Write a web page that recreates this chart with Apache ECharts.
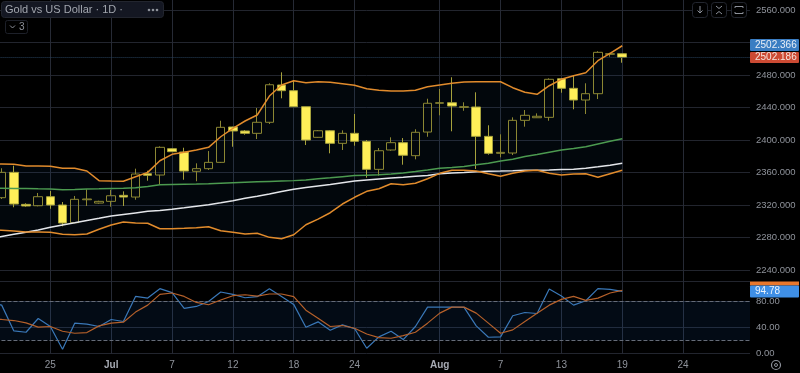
<!DOCTYPE html>
<html>
<head>
<meta charset="utf-8">
<title>Gold vs US Dollar</title>
<style>
  html, body { margin: 0; padding: 0; background: #000; width: 800px; height: 373px; overflow: hidden; position: relative; }
  /* the first bars sit partly off the left edge, a grid can't start left of its canvas */
  #chart { position: absolute; left: -20px; top: 0; width: 820px; height: 373px; }
</style>
<script src="https://cdn.jsdelivr.net/npm/echarts@6/dist/echarts.min.js"></script>
</head>
<body>
<div id="chart"></div>
<script>
const categories = [
  'Jun 19', 'Jun 20', 'Jun 21', 'Jun 23', 'Jun 24', 'Jun 25', 'Jun 26', 'Jun 27', 'Jun 28', 'Jun 30',
  'Jul 1', 'Jul 2', 'Jul 3', 'Jul 4', 'Jul 5', 'Jul 7', 'Jul 8', 'Jul 9', 'Jul 10', 'Jul 11', 'Jul 12',
  'Jul 14', 'Jul 15', 'Jul 16', 'Jul 17', 'Jul 18', 'Jul 19', 'Jul 21', 'Jul 22', 'Jul 23', 'Jul 24',
  'Jul 25', 'Jul 26', 'Jul 28', 'Jul 29', 'Jul 30', 'Jul 31', 'Aug 1', 'Aug 2', 'Aug 4', 'Aug 5', 'Aug 6',
  'Aug 7', 'Aug 8', 'Aug 9', 'Aug 11', 'Aug 12', 'Aug 13', 'Aug 14', 'Aug 15', 'Aug 16', 'Aug 18', 'Aug 19',
  'Aug 20', 'Aug 21', 'Aug 22', 'Aug 23', 'Aug 24', 'Aug 25', 'Aug 26', 'Aug 27', 'Aug 28', 'Aug 29',
];
const tickDates = ['Jun 25', 'Jul 1', 'Jul 7', 'Jul 12', 'Jul 18', 'Jul 24', 'Aug 1', 'Aug 7', 'Aug 13', 'Aug 19', 'Aug 24'];

// candles start on Jun 20, Jun 19 is off screen
const candleOpen = [
  2329.0, 2360.2, 2320.8, 2319.1, 2330.2, 2320.0, 2298.2, 2326.5, 2322.4, 2324.5, 2331.9, 2329.8, 2358.5,
  2356.9, 2389.3, 2385.2, 2361.5, 2364.7, 2372.5, 2416.0, 2411.1, 2408.2, 2421.8, 2467.7, 2460.7, 2441.0,
  2403.3, 2411.4, 2395.9, 2408.2, 2398.4, 2363.9, 2387.7, 2396.7, 2380.7, 2409.8, 2445.2, 2445.9, 2440.2,
  2440.6, 2404.5, 2383.6, 2384.0, 2424.2, 2427.4, 2427.9, 2475.4, 2463.6, 2449.2, 2457.0, 2505.5, 2506.2,
];
const candleClose = [
  2360.2, 2321.2, 2318.8, 2330.2, 2320.0, 2297.8, 2327.0, 2327.4, 2324.5, 2331.4, 2329.8, 2358.1, 2356.5,
  2391.0, 2385.6, 2361.8, 2364.7, 2372.5, 2415.6, 2411.1, 2408.2, 2421.8, 2468.0, 2460.7, 2441.0, 2400.0,
  2411.4, 2395.9, 2408.2, 2398.4, 2363.9, 2386.8, 2396.7, 2381.2, 2409.5, 2445.2, 2445.9, 2441.8, 2441.0,
  2404.5, 2383.6, 2384.8, 2424.2, 2430.4, 2429.2, 2474.7, 2463.6, 2449.2, 2457.0, 2507.9, 2506.2, 2501.8,
];
const candleLow = [
  2327.4, 2317.2, 2317.9, 2318.4, 2315.4, 2293.8, 2297.5, 2318.8, 2321.6, 2317.9, 2318.8, 2326.5, 2349.9,
  2345.5, 2385.2, 2351.1, 2349.2, 2363.1, 2371.7, 2391.7, 2406.5, 2401.2, 2419.7, 2451.3, 2441.0, 2393.8,
  2402.8, 2383.6, 2387.7, 2393.0, 2353.6, 2356.1, 2386.8, 2369.6, 2376.2, 2404.0, 2430.4, 2410.7, 2436.0,
  2364.3, 2381.9, 2378.7, 2381.5, 2416.4, 2427.1, 2423.7, 2458.2, 2437.8, 2432.0, 2450.4, 2502.5, 2495.1,
];
const candleHigh = [
  2365.2, 2368.4, 2322.1, 2334.8, 2337.2, 2323.7, 2331.1, 2339.3, 2325.3, 2338.8, 2336.8, 2364.7, 2362.2,
  2392.2, 2389.8, 2390.5, 2371.3, 2386.4, 2423.7, 2416.4, 2412.3, 2439.4, 2469.8, 2483.3, 2473.8, 2441.0,
  2412.3, 2412.3, 2411.9, 2432.0, 2400.0, 2390.1, 2403.3, 2402.4, 2413.2, 2450.8, 2462.8, 2477.2, 2446.4,
  2458.7, 2418.1, 2407.0, 2427.9, 2436.9, 2432.8, 2475.9, 2476.3, 2478.8, 2469.8, 2509.2, 2507.4, 2506.2,
];

const bandUpper = [
  2370.6, 2370.4, 2370.1, 2368.0, 2368.0, 2367.6, 2365.2, 2365.2, 2361.8, 2349.9, 2349.5, 2349.2, 2354.8, 2360.2,
  2374.5, 2382.4, 2384.9, 2387.7, 2391.0, 2404.0, 2414.4, 2423.4, 2430.8, 2454.1, 2467.7, 2473.0, 2470.5,
  2471.7, 2471.0, 2469.3, 2467.3, 2463.1, 2461.2, 2460.3, 2460.3, 2461.2, 2465.6, 2467.7, 2469.8, 2471.4,
  2471.7, 2471.7, 2471.7, 2464.4, 2458.7, 2456.2, 2466.8, 2474.7, 2479.1, 2482.8, 2497.6, 2506.7, 2516.0,
];
const bandLower = [
  2289.4, 2288.8, 2288.0, 2286.7, 2286.7, 2286.4, 2283.9, 2283.4, 2284.3, 2290.1, 2295.4, 2299.1, 2297.8, 2297.5,
  2290.8, 2290.8, 2291.3, 2292.0, 2293.3, 2288.4, 2286.4, 2284.3, 2285.2, 2280.2, 2278.5, 2283.4, 2295.7,
  2302.7, 2310.5, 2321.2, 2329.5, 2336.8, 2340.0, 2346.2, 2345.0, 2346.7, 2352.3, 2359.0, 2362.7, 2362.7,
  2361.8, 2358.5, 2355.3, 2359.0, 2361.8, 2362.7, 2359.0, 2356.9, 2358.1, 2358.5, 2354.1, 2358.5, 2362.7,
];
const maGreen = [
  2340.5, 2340.5, 2340.4, 2340.2, 2339.9, 2339.7, 2338.8, 2339.2, 2339.7, 2339.9, 2340.3, 2340.7, 2341.2, 2342.9,
  2345.0, 2345.3, 2345.6, 2345.8, 2346.2, 2346.8, 2347.4, 2348.0, 2348.5, 2349.0, 2349.5, 2350.0, 2350.8,
  2352.2, 2353.5, 2354.9, 2356.2, 2356.7, 2357.2, 2358.1, 2359.4, 2361.1, 2363.1, 2365.2, 2366.1, 2367.4,
  2369.6, 2371.4, 2374.1, 2376.2, 2379.7, 2382.1, 2384.9, 2387.7, 2389.4, 2391.7, 2395.1, 2398.4, 2401.6,
];
const maWhite = [
  2278.6, 2281.3, 2283.9, 2286.5, 2289.2, 2292.5, 2295.4, 2298.1, 2301.0, 2303.6, 2306.4, 2308.4, 2310.3, 2312.2,
  2313.3, 2314.7, 2316.5, 2318.5, 2320.4, 2322.7, 2325.3, 2328.2, 2330.8, 2333.5, 2336.6, 2339.3, 2341.4,
  2343.4, 2345.3, 2347.4, 2349.5, 2350.8, 2352.0, 2353.2, 2354.2, 2355.4, 2356.4, 2358.5, 2359.4, 2360.0,
  2361.0, 2361.5, 2361.8, 2362.2, 2362.7, 2362.7, 2363.1, 2363.6, 2363.9, 2365.2, 2367.0, 2369.0, 2371.3,
];
const rsiValues = [
  78.0, 73.8, 34.6, 32.6, 53.5, 41.3, 6.7, 46.4, 44.8, 41.3, 52.0, 48.9, 87.0, 84.5, 98.8, 92.7, 68.8, 71.8, 79.4,
  93.7, 90.1, 85.0, 86.6, 98.8, 87.0, 74.9, 40.3, 48.4, 35.7, 43.8, 38.2, 8.2, 25.5, 34.1, 21.4, 41.3, 70.8,
  70.8, 70.8, 70.3, 42.3, 25.0, 25.5, 57.6, 62.6, 61.1, 98.3, 87.6, 73.8, 80.5, 98.8, 97.8, 94.78,
];
const rsiMa = [
  52.4, 52.0, 50.4, 46.9, 40.3, 41.3, 34.1, 31.1, 32.1, 42.3, 46.4, 47.9, 63.2, 73.8, 90.1, 92.2, 87.0, 77.9, 74.4,
  81.5, 88.1, 89.6, 87.6, 90.7, 90.7, 86.6, 66.2, 54.0, 41.3, 42.8, 38.7, 30.0, 24.5, 23.5, 27.5, 32.6, 46.4,
  61.6, 70.8, 70.8, 61.6, 46.4, 31.1, 36.2, 48.9, 61.6, 73.8, 82.5, 87.0, 81.0, 84.5, 92.2, 96.2,
];
const lastPrice = 2502.186;

const GRID_LINE = '#22252e';
const LABEL = '#8f939b';
const FONT = '"Liberation Sans", Arial, sans-serif';
const GRID_LEFT = 3.45;

const candles = [['-', '-', '-', '-']].concat(candleOpen.map((open, i) => [
  open, candleClose[i], candleLow[i], candleHigh[i],
]));
const bandRange = bandUpper.map((v, i) => v - bandLower[i]);
const isTick = (index, value) => tickDates.includes(value);

const line = (name, data, color, width, xAxisIndex, yAxisIndex, z) => ({
  name,
  type: 'line',
  data,
  xAxisIndex,
  yAxisIndex,
  z,
  showSymbol: false,
  symbol: 'none',
  silent: true,
  lineStyle: { color, width },
});

const hiddenX = (gridIndex) => ({
  type: 'category',
  gridIndex,
  data: categories,
  show: false,
});

const tag = (y, height, fill, text, textFill) => [
  { type: 'rect', z: 100, shape: { x: 750, y, width: 49, height, r: 1 }, style: { fill } },
  {
    type: 'text',
    z: 101,
    x: 755,
    y: y + height / 2,
    style: { text, fill: textFill, font: '10px ' + FONT, textVerticalAlign: 'middle' },
  },
];

const button = (x) => ({
  type: 'rect',
  z: 100,
  shape: { x: x + 0.5, y: 2.5, width: 15, height: 15, r: 3 },
  style: { fill: '#000', stroke: '#23262f', lineWidth: 1 },
});

const stroke = (points) => ({
  type: 'polyline',
  z: 101,
  shape: { points },
  style: { fill: 'none', stroke: '#8d919a', lineWidth: 1 },
});

const chart = echarts.init(document.getElementById('chart'), null, { renderer: 'canvas' });
chart.setOption({
  animation: false,
  backgroundColor: '#000',
  grid: [
    { left: GRID_LEFT, right: 50, top: 0, height: 353.7 },
    { left: GRID_LEFT, right: 50, top: 10, height: 260 },
    { left: GRID_LEFT, right: 50, top: 281.3, height: 72.4 },
  ],
  xAxis: [
    {
      type: 'category',
      gridIndex: 0,
      data: categories,
      axisLine: { show: false },
      axisTick: { show: false },
      axisLabel: {
        interval: isTick,
        margin: 7,
        color: LABEL,
        fontSize: 10,
        fontFamily: FONT,
        formatter: (value) => {
          const [month, day] = value.split(' ');
          return day === '1' ? '{month|' + month + '}' : day;
        },
        rich: { month: { color: '#a6aab3', fontSize: 10, fontWeight: 'bold', fontFamily: FONT } },
      },
      splitLine: {
        show: true,
        alignWithLabel: true,
        interval: isTick,
        lineStyle: { color: '#262a35', width: 1 },
      },
    },
    hiddenX(1),
    hiddenX(2),
  ],
  yAxis: [
    { type: 'value', gridIndex: 0, show: false, min: 0, max: 1, splitLine: { show: false } },
    {
      type: 'value',
      gridIndex: 1,
      position: 'right',
      min: 2240,
      max: 2560,
      interval: 40,
      axisLine: { show: false },
      axisTick: { show: false },
      axisLabel: {
        margin: 6,
        color: LABEL,
        fontSize: 9.5,
        fontFamily: FONT,
        formatter: (value) => value.toFixed(3),
      },
      splitLine: { lineStyle: { color: GRID_LINE, width: 1 } },
    },
    {
      type: 'value',
      gridIndex: 2,
      position: 'right',
      min: 0,
      max: 110,
      interval: 40,
      axisLine: { show: false },
      axisTick: { show: false },
      axisLabel: {
        margin: 6,
        color: LABEL,
        fontSize: 9.5,
        fontFamily: FONT,
        showMaxLabel: false,
        formatter: (value) => value.toFixed(2),
      },
      splitLine: { lineStyle: { color: GRID_LINE, width: 1 } },
    },
  ],
  series: [
    {
      name: 'band base',
      type: 'line',
      data: bandLower,
      xAxisIndex: 1,
      yAxisIndex: 1,
      stack: 'band',
      symbol: 'none',
      silent: true,
      z: 1,
      lineStyle: { width: 0 },
    },
    {
      name: 'band fill',
      type: 'line',
      data: bandRange,
      xAxisIndex: 1,
      yAxisIndex: 1,
      stack: 'band',
      symbol: 'none',
      silent: true,
      z: 1,
      lineStyle: { width: 0 },
      areaStyle: { color: 'rgba(40,120,200,0.06)', opacity: 1 },
    },
    {
      name: 'XAUUSD',
      type: 'candlestick',
      data: candles,
      xAxisIndex: 1,
      yAxisIndex: 1,
      barWidth: 9,
      z: 2,
      silent: true,
      itemStyle: {
        color: 'rgba(0,0,0,0)',
        color0: '#ffee58',
        borderColor: '#8c8733',
        borderColor0: '#a6a13c',
        borderWidth: 1,
      },
      markLine: {
        silent: true,
        symbol: 'none',
        label: { show: false },
        lineStyle: { color: '#27405c', type: 'dotted', width: 1 },
        data: [{ yAxis: lastPrice }],
      },
    },
    line('MA green', maGreen, '#4c9a50', 1.5, 1, 1, 3),
    line('MA white', maWhite, '#e4e6ea', 1.5, 1, 1, 4),
    line('BB upper', bandUpper, '#e18b2c', 1.5, 1, 1, 5),
    line('BB lower', bandLower, '#e18b2c', 1.5, 1, 1, 5),
    {
      ...line('RSI', rsiValues, '#3a78b8', 1.2, 2, 2, 4),
      markArea: {
        silent: true,
        itemStyle: { color: 'rgba(33,120,230,0.09)' },
        data: [[{ yAxis: 20 }, { yAxis: 80 }]],
      },
      markLine: {
        silent: true,
        symbol: 'none',
        label: { show: false },
        lineStyle: { color: '#666c78', type: 'dashed', width: 1 },
        data: [{ yAxis: 80 }, { yAxis: 20 }],
      },
    },
    line('RSI MA', rsiMa, '#b5602a', 1.2, 2, 2, 5),
  ],
  graphic: [{
    type: 'group',
    x: 20,
    y: 0,
    children: [
      // legend box
      {
        type: 'rect',
        z: 100,
        shape: { x: 1.5, y: 1.5, width: 162, height: 16, r: 3 },
        style: { fill: '#141722', stroke: '#22252e', lineWidth: 1 },
      },
      {
        type: 'text',
        z: 101,
        x: 5,
        y: 10,
        style: { text: 'Gold vs US Dollar · 1D ·', fill: '#a2a6ae', font: '11px ' + FONT, textVerticalAlign: 'middle' },
      },
      { type: 'circle', z: 101, shape: { cx: 149, cy: 10, r: 1.3 }, style: { fill: '#8d919a' } },
      { type: 'circle', z: 101, shape: { cx: 153, cy: 10, r: 1.3 }, style: { fill: '#8d919a' } },
      { type: 'circle', z: 101, shape: { cx: 157, cy: 10, r: 1.3 }, style: { fill: '#8d919a' } },
      {
        type: 'rect',
        z: 100,
        shape: { x: 5.5, y: 20.5, width: 22, height: 13, r: 2 },
        style: { fill: '#000', stroke: '#1d2029', lineWidth: 1 },
      },
      stroke([[10, 25.5], [12.5, 28], [15, 25.5]]),
      {
        type: 'text',
        z: 101,
        x: 19,
        y: 27,
        style: { text: '3', fill: '#8d919a', font: '10px ' + FONT, textVerticalAlign: 'middle' },
      },
      // top right buttons
      button(692),
      button(711),
      button(731),
      stroke([[700, 6], [700, 13]]),
      stroke([[697.5, 10.5], [700, 13], [702.5, 10.5]]),
      stroke([[716, 6], [719, 8.5], [722, 6]]),
      stroke([[716, 14], [719, 11.5], [722, 14]]),
      stroke([[735, 8], [735, 6.5], [743, 6.5], [743, 8]]),
      stroke([[735, 12], [735, 13.5], [743, 13.5], [743, 12]]),
      // price tags
      ...tag(39, 12, '#3a7dc2', '2502.366', '#e8eef6'),
      ...tag(52, 11, '#cc4a33', '2502.186', '#f6e3dc'),
      { type: 'rect', z: 100, shape: { x: 750, y: 281.5, width: 49, height: 4 }, style: { fill: '#e8772c' } },
      ...tag(285.5, 12, '#3f8fe6', '94.78', '#eaf3fd'),
      // hides the lower part of the 0.00 label, same as the time axis strip
      { type: 'rect', z: 100, shape: { x: 750, y: 356.5, width: 50, height: 17 }, style: { fill: '#000' } },
      {
        type: 'circle',
        z: 101,
        shape: { cx: 776, cy: 365, r: 4.5 },
        style: { fill: 'none', stroke: '#8d919a', lineWidth: 1.2 },
      },
      {
        type: 'circle',
        z: 101,
        shape: { cx: 776, cy: 365, r: 1.5 },
        style: { fill: 'none', stroke: '#8d919a', lineWidth: 1 },
      },
    ],
  }],
});
</script>
</body>
</html>
